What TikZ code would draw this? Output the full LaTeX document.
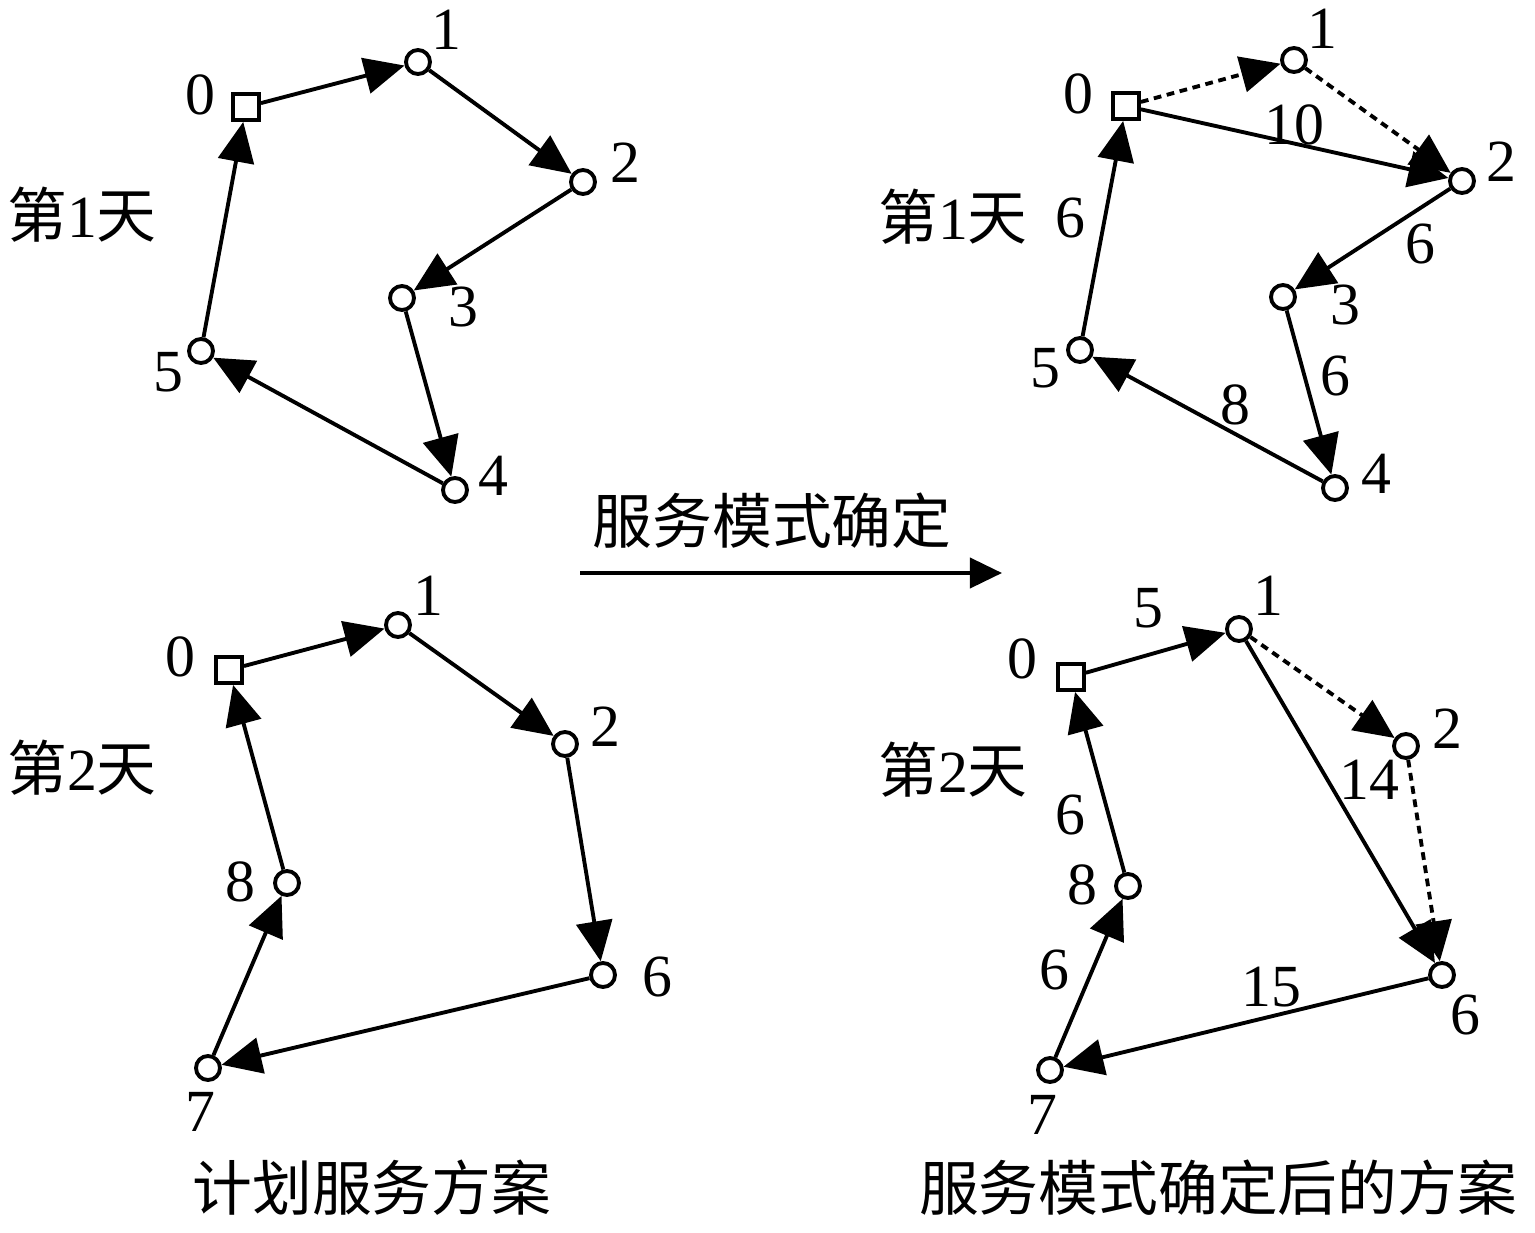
\documentclass[tikz,border=0pt]{standalone}
\usepackage{fontspec}
\setmainfont{Liberation Serif}
\newfontfamily\cjk{Noto Sans CJK SC}
\usetikzlibrary{arrows.meta}

\begin{document}
\begin{tikzpicture}[
  x=0.01cm, y=-0.01cm,
  font=\fontsize{17pt}{20pt}\selectfont,
  every node/.style={align=center},
  depot/.style={rectangle, draw, line width=1.1pt, fill=white,
                minimum size=0.26cm, inner sep=0pt},
  cust/.style={circle, draw, line width=1.1pt, fill=white,
               minimum size=0.24cm, inner sep=0pt},
  lbl/.style={inner sep=0pt},
  route/.style={line width=1.1pt, -{Triangle[length=0.4cm, width=0.36cm]}},
  planned/.style={route, dash pattern=on 2.2pt off 1.6pt},
  elbl/.style={inner sep=2pt}
]
\useasboundingbox (0,0) rectangle (1535,1233);

% ---- Top left: day 1, planned
\node[depot] (a0) at (246,107) {};
\node[cust]  (a1) at (418,62)  {};
\node[cust]  (a2) at (583,182) {};
\node[cust]  (a3) at (402,298) {};
\node[cust]  (a4) at (455,490) {};
\node[cust]  (a5) at (201,351) {};
\node[lbl] (la0) at (200,95)  {0};
\node[lbl] (la1) at (446,30)  {1};
\node[lbl] (la2) at (625,163) {2};
\node[lbl] (la3) at (463,307) {3};
\node[lbl] (la4) at (493,476) {4};
\node[lbl] (la5) at (168,372) {5};
\node[lbl] (da) at (82,215) {{\cjk 第}1{\cjk 天}};

\draw[route] (a0) -- (a1);
\draw[route] (a1) -- (a2);
\draw[route] (a2) -- (a3);
\draw[route] (a3) -- (a4);
\draw[route] (a4) -- (a5);
\draw[route] (a5) -- (a0);

% ---- Bottom left: day 2, planned
\node[depot] (b0) at (229,670) {};
\node[cust]  (b1) at (398,625) {};
\node[cust]  (b2) at (565,744) {};
\node[cust]  (b6) at (603,975) {};
\node[cust]  (b7) at (208,1068) {};
\node[cust]  (b8) at (287,883) {};
\node[lbl] (lb0) at (180,657) {0};
\node[lbl] (lb1) at (428,596) {1};
\node[lbl] (lb2) at (605,727) {2};
\node[lbl] (lb6) at (657,977) {6};
\node[lbl] (lb7) at (200,1112) {7};
\node[lbl] (lb8) at (240,882) {8};
\node[lbl] (db) at (82,768) {{\cjk 第}2{\cjk 天}};

\draw[route] (b0) -- (b1);
\draw[route] (b1) -- (b2);
\draw[route] (b2) -- (b6);
\draw[route] (b6) -- (b7);
\draw[route] (b7) -- (b8);
\draw[route] (b8) -- (b0);

% ---- Middle arrow
\coordinate (mA) at (580,573);
\coordinate (mB) at (1002,573);
\draw[line width=1.1pt, -{Triangle[length=0.32cm, width=0.3cm]}] (mA) -- (mB);
\node[lbl, font=\cjk\fontsize{17pt}{20pt}\selectfont] (mode) at (772,521) {服务模式确定};

% ---- Top right: day 1, after
\node[depot] (c0) at (1126,106) {};
\node[cust]  (c1) at (1294,60)  {};
\node[cust]  (c2) at (1462,181) {};
\node[cust]  (c3) at (1283,297) {};
\node[cust]  (c4) at (1335,488) {};
\node[cust]  (c5) at (1080,350) {};
\node[lbl] (lc0) at (1078,94)  {0};
\node[lbl] (lc1) at (1322,29)  {1};
\node[lbl] (lc2) at (1501,162) {2};
\node[lbl] (lc3) at (1345,305) {3};
\node[lbl] (lc4) at (1376,474) {4};
\node[lbl] (lc5) at (1045,368) {5};
\node[lbl] (dc) at (953,217) {{\cjk 第}1{\cjk 天}};

\draw[planned] (c0) -- (c1);
\draw[planned] (c1) -- (c2);
\draw[route] (c0) -- node[elbl, above=-3pt] {10} (c2);
\draw[route] (c2) -- node[elbl, pos=0.55, right=9pt] {6} (c3);
\draw[route] (c3) -- node[elbl, pos=0.4, right=2pt] {6} (c4);
\draw[route] (c4) -- node[elbl, pos=0.38, above=0pt] {8} (c5);
\draw[route] (c5) -- node[elbl, pos=0.55, left=3pt] {6} (c0);

% ---- Bottom right: day 2, after
\node[depot] (d0) at (1071,677) {};
\node[cust]  (d1) at (1239,629) {};
\node[cust]  (d2) at (1406,746) {};
\node[cust]  (d6) at (1442,975) {};
\node[cust]  (d7) at (1050,1070) {};
\node[cust]  (d8) at (1128,886) {};
\node[lbl] (ld0) at (1022,659) {0};
\node[lbl] (ld1) at (1268,596) {1};
\node[lbl] (ld2) at (1447,729) {2};
\node[lbl] (ld6) at (1465,1015) {6};
\node[lbl] (ld7) at (1042,1115) {7};
\node[lbl] (ld8) at (1082,885) {8};
\node[lbl] (dd) at (953,770) {{\cjk 第}2{\cjk 天}};

\draw[route] (d0) -- node[elbl, pos=0.45, above=5pt] {5} (d1);
\draw[planned] (d1) -- (d2);
\draw[planned] (d2) -- (d6);
\draw[route] (d1) -- node[elbl, pos=0.43, right=1pt] {14} (d6);
\draw[route] (d6) -- node[elbl, pos=0.43, above=0pt] {15} (d7);
\draw[route] (d7) -- node[elbl, pos=0.55, left=4pt] {6} (d8);
\draw[route] (d8) -- node[elbl, pos=0.32, left=4pt] {6} (d0);

% ---- Captions
\node[lbl, font=\cjk\fontsize{17pt}{20pt}\selectfont] (capl) at (372,1188) {计划服务方案};
\node[lbl, font=\cjk\fontsize{17pt}{20pt}\selectfont] (capr) at (1218,1188) {服务模式确定后的方案};

\end{tikzpicture}
\end{document}
